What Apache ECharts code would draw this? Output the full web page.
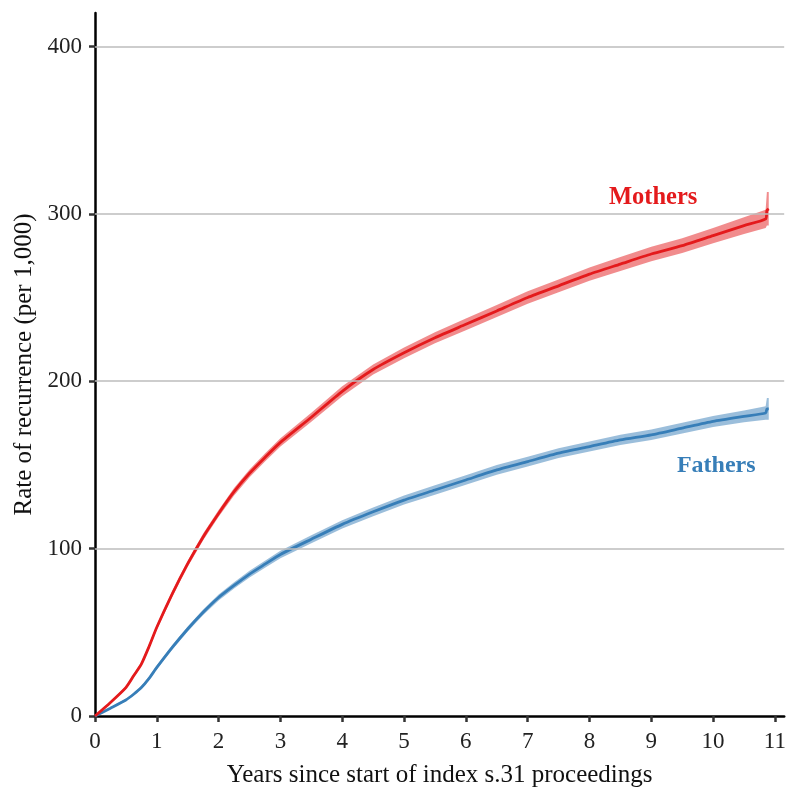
<!DOCTYPE html>
<html>
<head>
<meta charset="utf-8">
<script src="https://cdn.jsdelivr.net/npm/echarts@6/dist/echarts.min.js"></script>
<style>
html,body{margin:0;padding:0;background:#fff;overflow:hidden;}
#chart{width:789px;height:793px;}
</style>
</head>
<body>
<div id="chart"></div>
<script>
// ---- data ----
var years = [0, 0.25, 0.5, 0.625, 0.75, 0.875, 1, 1.25, 1.5, 1.75, 2, 2.25, 2.5, 2.75, 3, 3.5, 4, 4.5, 5, 5.5, 6, 6.5, 7, 7.5, 8, 8.5, 9, 9.5, 10, 10.5, 10.85, 10.87, 10.9];

var mothers      = [0, 8.1, 17, 24, 31, 41.5, 53, 73, 91, 107, 121, 134, 145, 154.5, 163.5, 178.5, 194, 207, 217, 226, 234, 242, 250, 257, 264, 270, 276, 281, 287, 293, 297, 302, 303];
var mothersLower = [0, 7.4, 16, 22.9, 29.8, 40.2, 51.5, 71.3, 89.2, 105, 119, 131.8, 142.7, 152.1, 161, 175.8, 191, 204, 213.8, 222.7, 230.5, 238.4, 246.3, 253.2, 260, 265.8, 271.7, 276.6, 282.4, 288, 291.5, 293, 293];
var mothersUpper = [0, 8.8, 18, 25.1, 32.2, 42.8, 54.5, 74.7, 92.8, 109, 123, 136.2, 147.3, 156.9, 166, 181.2, 197, 210, 220.2, 229.3, 237.5, 245.6, 253.7, 260.8, 268, 274.2, 280.3, 285.4, 291.6, 298, 302.5, 313, 313];

var fathers      = [0, 4.7, 9.6, 13, 17, 22.5, 29, 41, 52, 62, 70.8, 78, 84.8, 90.7, 96.5, 105.6, 114.5, 122, 129, 135, 141, 147, 152, 157, 161, 165, 168, 172, 176, 179, 181, 183.5, 183.5];
var fathersLower = [0, 4.2, 8.9, 12.2, 16.1, 21.5, 27.8, 39.6, 50.5, 60.4, 69, 76.1, 82.8, 88.6, 94.3, 103.2, 112, 119.4, 126.3, 132.2, 138.2, 144.1, 149.1, 154.1, 158, 161.9, 164.9, 168.8, 172.7, 175.5, 177, 177, 177];
var fathersUpper = [0, 5.2, 10.3, 13.8, 17.9, 23.5, 30.2, 42.4, 53.5, 63.6, 72.6, 79.9, 86.8, 92.8, 98.7, 108, 117, 124.6, 131.7, 137.8, 143.8, 149.9, 154.9, 159.9, 164, 168.1, 171.1, 175.2, 179.3, 182.5, 185, 190, 190];

var xTicks = [0, 1, 2, 3, 4, 5, 6, 7, 8, 9, 10, 11];
var yTicks = [0, 100, 200, 300, 400];
var gridValues = [100, 200, 300, 400];

var labelMothers = {text: 'Mothers', x: 9.03, y: 309.6};
var labelFathers = {text: 'Fathers', x: 10.05, y: 149.5};

// ---- build ----
function pairs(xs, ys) { return xs.map(function (x, i) { return [x, ys[i]]; }); }

var RED = '#e41a1c', BLUE = '#377eb8';
var FONT = '"Liberation Serif", "DejaVu Serif", serif';

function bandSeries(lower, upper, color) {
  return {
    type: 'custom', silent: true, z: 2, clip: true,
    data: [[years[0], lower[0], upper[0]]],
    renderItem: function (params, api) {
      var pts = [];
      for (var i = 0; i < years.length; i++) pts.push(api.coord([years[i], upper[i]]));
      for (var j = years.length - 1; j >= 0; j--) pts.push(api.coord([years[j], lower[j]]));
      return {
        type: 'polygon',
        shape: {points: pts, smooth: 0},
        style: {fill: color, opacity: 0.5}
      };
    }
  };
}

var chart = echarts.init(document.getElementById('chart'), null, {renderer: 'canvas'});

var option = {
  animation: false,
  backgroundColor: '#fff',
  grid: {left: 95, right: 0, top: 13, bottom: 72, containLabel: false},
  xAxis: {
    type: 'value', min: 0, max: 11.15, interval: 1,
    name: 'Years since start of index s.31 proceedings',
    nameLocation: 'middle', nameGap: 47,
    nameTextStyle: {fontFamily: FONT, fontSize: 25, color: '#111'},
    axisLine: {show: true, onZero: false, lineStyle: {color: '#000', width: 2.5}},
    axisTick: {show: true, length: 6, lineStyle: {color: '#333', width: 2.5}, customValues: xTicks},
    axisLabel: {fontFamily: FONT, fontSize: 23, color: '#222', margin: 14, customValues: xTicks},
    splitLine: {show: false}
  },
  yAxis: {
    type: 'value', min: 0, max: 420, interval: 100,
    name: 'Rate of recurrence (per 1,000)',
    nameLocation: 'middle', nameGap: 58,
    nameTextStyle: {fontFamily: FONT, fontSize: 25, color: '#111'},
    axisLine: {show: true, onZero: false, lineStyle: {color: '#000', width: 2.5}},
    axisTick: {show: true, length: 6, lineStyle: {color: '#333', width: 2.5}, customValues: yTicks},
    axisLabel: {fontFamily: FONT, fontSize: 23, color: '#222', margin: 13, customValues: yTicks},
    splitLine: {show: false}
  },
  series: [
    {
      type: 'line', data: [], silent: true, z: 1,
      markLine: {
        silent: true, symbol: ['none', 'none'], animation: false,
        label: {show: false},
        lineStyle: {color: '#bdbdbd', width: 1.6, type: 'solid'},
        emphasis: {disabled: true},
        data: gridValues.map(function (v) { return {yAxis: v}; })
      }
    },
    bandSeries(fathersLower, fathersUpper, BLUE),
    bandSeries(mothersLower, mothersUpper, RED),
    {
      name: 'Fathers', type: 'line', data: pairs(years, fathers), showSymbol: false, symbol: 'none',
      smooth: 0.2,
      lineStyle: {color: BLUE, width: 2.8}, z: 3,
      markPoint: {
        symbol: 'circle', symbolSize: 0,
        label: {show: true, formatter: labelFathers.text, fontFamily: FONT, fontWeight: 'bold', fontSize: 24, color: BLUE, position: 'inside'},
        data: [{coord: [labelFathers.x, labelFathers.y]}]
      }
    },
    {
      name: 'Mothers', type: 'line', data: pairs(years, mothers), showSymbol: false, symbol: 'none',
      smooth: 0.2,
      lineStyle: {color: RED, width: 2.8}, z: 3,
      markPoint: {
        symbol: 'circle', symbolSize: 0,
        label: {show: true, formatter: labelMothers.text, fontFamily: FONT, fontWeight: 'bold', fontSize: 24.5, color: RED, position: 'inside'},
        data: [{coord: [labelMothers.x, labelMothers.y]}]
      }
    }
  ]
};
chart.setOption(option);
</script>
</body>
</html>
